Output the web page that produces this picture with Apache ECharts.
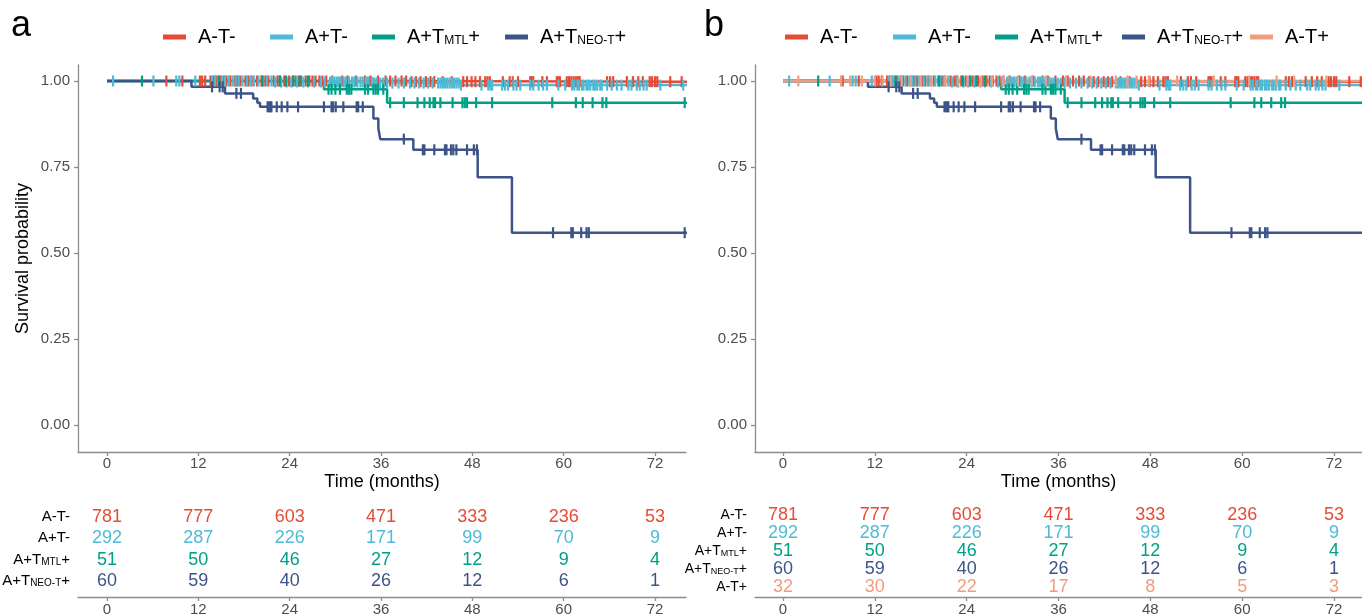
<!DOCTYPE html>
<html><head><meta charset="utf-8">
<script src="https://cdn.jsdelivr.net/npm/echarts@6/dist/echarts.min.js"></script>
<style>html,body{margin:0;padding:0;background:#fff}#c{width:1362px;height:615px}</style>
</head><body><div id="c"></div><script>
// ---------- DATA ----------
const groupNames = ['A-T-','A+T-','A+T_MTL+','A+T_NEO-T+','A-T+'];
const groupColors = ['#E64B35','#4DBBD5','#00A087','#3C5488','#F39B7F'];
const timeTicks = [0,12,24,36,48,60,72];
const survTicks = [0,0.25,0.5,0.75,1];
const curveEnd = 76.2;

// Kaplan-Meier step curves: event times and survival after each event
const atmTimes = [0, 40];
const atmSurv  = [1, 0.998];
const aptmTimes = [0, 22, 35, 46.4];
const aptmSurv  = [1, 0.997, 0.994, 0.988];
const mtlTimes = [0, 28.5, 36.8];
const mtlSurv  = [1, 0.976, 0.937];
const neoTimes = [0, 11.1, 15.5, 19.2, 19.75, 20.1, 35.0, 35.65, 35.9, 40.25, 48.7, 53.2];
const neoSurv  = [1, 0.983, 0.964, 0.949, 0.937, 0.925, 0.891, 0.862, 0.831, 0.80, 0.72, 0.559];
const atpTimes = [0];
const atpSurv  = [1];

// censoring times
const atmCens = [7.8, 9.9, 12.2, 12.5, 12.9, 13.6, 14.0, 14.3, 14.9, 15.4, 15.7, 16.2, 16.8, 17.1, 17.5, 18.2, 18.6, 19.0, 19.7, 20.3, 20.8, 21.2, 21.9, 22.4, 22.7, 23.3, 23.9, 24.4, 24.8, 25.2, 25.5, 26.1, 26.6, 27.0, 27.4, 27.9, 28.3, 28.8, 29.6, 30.9, 31.6, 32.7, 33.9, 34.6, 35.6, 36.6, 37.2, 37.9, 38.7, 39.3, 40.0, 40.6, 41.2, 41.9, 42.5, 43.0, 44.1, 45.3, 46.8, 47.3, 47.9, 48.4, 49.0, 49.7, 50.0, 50.3, 52.0, 52.9, 53.3, 54.0, 55.6, 55.8, 56.0, 57.2, 57.8, 59.1, 59.3, 59.5, 60.4, 60.7, 61.0, 61.3, 61.6, 61.9, 62.1, 65.7, 66.1, 66.5, 68.3, 69.1, 69.8, 70.4, 71.3, 71.6, 72.0, 72.3, 74.0, 75.5];
const aptmCens = [0.8, 6.1, 9.1, 9.5, 11.6, 13.8, 14.2, 14.6, 15.1, 15.5, 16.0, 16.5, 16.9, 17.3, 17.8, 18.4, 18.9, 19.3, 19.9, 20.5, 21.0, 21.6, 22.1, 22.9, 23.6, 24.2, 25.0, 25.8, 26.4, 27.2, 28.1, 28.6, 29.3, 29.6, 29.9, 30.2, 30.5, 30.7, 31.1, 31.4, 31.8, 32.2, 32.5, 32.9, 33.3, 33.6, 34.0, 34.3, 34.8, 35.1, 35.4, 35.9, 36.3, 36.8, 37.5, 38.3, 39.0, 39.8, 40.4, 41.0, 41.6, 42.2, 42.8, 43.5, 43.8, 44.1, 44.4, 44.7, 45.0, 45.3, 45.6, 45.9, 46.2, 46.5, 49.2, 50.1, 50.4, 50.6, 51.9, 52.3, 52.7, 53.4, 53.8, 54.3, 55.6, 56.0, 56.7, 57.3, 57.8, 59.3, 60.2, 61.1, 61.4, 61.8, 62.0, 62.4, 62.6, 63.0, 63.2, 63.5, 63.9, 64.1, 64.4, 64.8, 65.0, 65.7, 66.3, 67.0, 67.6, 68.5, 68.9, 69.6, 70.0, 70.5, 70.9, 72.7, 75.7];
const mtlCens = [4.6, 14.7, 20.4, 22.7, 23.5, 24.5, 25.3, 26.4, 29.1, 29.5, 30.0, 30.6, 31.5, 31.8, 32.1, 33.9, 34.3, 35.0, 35.3, 35.6, 36.3, 37.2, 39.0, 40.8, 41.7, 42.4, 42.9, 43.1, 43.8, 45.4, 46.7, 47.0, 47.3, 48.5, 50.6, 58.5, 61.6, 62.5, 63.8, 65.1, 65.6, 75.9];
const neoCens = [13.8, 14.8, 15.2, 17.0, 17.6, 21.1, 21.3, 21.5, 21.6, 22.3, 22.95, 23.7, 25.1, 28.5, 29.5, 29.7, 30.05, 31.05, 32.8, 33.0, 33.6, 39.0, 41.5, 41.7, 43.0, 44.4, 44.6, 45.2, 45.5, 45.9, 47.3, 48.2, 48.6, 58.6, 61.0, 61.2, 62.3, 63.0, 63.3, 75.9];
const atpCens = [2.0, 7.6, 8.8, 10.3, 12.0, 13.0, 14.1, 15.5, 16.7, 18.0, 19.4, 21.2, 22.8, 24.1, 25.9, 27.3, 28.8, 30.7, 32.5, 34.4, 37.0, 40.2, 43.5, 45.0, 46.2, 47.8, 51.5, 56.3, 60.9, 64.5, 66.8, 71.0];

// numbers at risk
const riskATm  = [781, 777, 603, 471, 333, 236, 53];
const riskAPTm = [292, 287, 226, 171, 99, 70, 9];
const riskMTL  = [51, 50, 46, 27, 12, 9, 4];
const riskNEO  = [60, 59, 40, 26, 12, 6, 1];
const riskATp  = [32, 30, 22, 17, 8, 5, 3];

// ---------- BUILD ----------
const curves = [
  {t: atmTimes, s: atmSurv, c: atmCens, r: riskATm},
  {t: aptmTimes, s: aptmSurv, c: aptmCens, r: riskAPTm},
  {t: mtlTimes, s: mtlSurv, c: mtlCens, r: riskMTL},
  {t: neoTimes, s: neoSurv, c: neoCens, r: riskNEO},
  {t: atpTimes, s: atpSurv, c: atpCens, r: riskATp}
];
function survAt(cv, x) {
  let v = cv.s[0];
  for (let i = 0; i < cv.t.length; i++) if (cv.t[i] <= x) v = cv.s[i];
  return v;
}
function richName(n) {
  return n.replace('_MTL', '{sub|MTL}').replace('_NEO-T', '{sub|NEO-T}');
}
const FONT = 'Liberation Sans, Arial, sans-serif';
const axisGrey = '#8c8c8c';
const labelGrey = '#4d4d4d';

const panels = [
  {n: 4, plot: {left: 78, right: 1362 - 686, top: 65, bottom: 615 - 452}, xmin: -3.81, xmax: 76.07,
   table: {top: 505, bottom: 18}, tmin: -0.5625, tmax: 3.75, nameSize: 15, yName: 'Survival probability',
   legendLeft: [163, 270, 372, 505]},
  {n: 5, plot: {left: 755, right: 0, top: 65, bottom: 615 - 452}, xmin: -3.66, xmax: 75.66,
   table: {top: 503, bottom: 18}, tmin: -0.667, tmax: 4.556, nameSize: 14, yName: '',
   legendLeft: [785, 893, 995, 1122, 1250]}
];

const grids = [], xAxes = [], yAxes = [], series = [], legends = [];
const legendText = {fontSize: 20, color: '#000', fontFamily: FONT, padding: [0, 0, 0, 7],
  rich: {sub: {fontSize: 12, lineHeight: 4, verticalAlign: 'bottom', fontFamily: FONT, color: '#000'}}};

panels.forEach((p, pi) => {
  const gPlot = grids.length;
  grids.push(Object.assign({containLabel: false, outerBoundsMode: 'none'}, p.plot));
  const gTab = grids.length;
  grids.push({left: p.plot.left, right: p.plot.right, top: p.table.top, bottom: p.table.bottom,
    containLabel: false, outerBoundsMode: 'none'});

  const xCommon = {
    type: 'value', min: p.xmin, max: p.xmax, splitLine: {show: false},
    axisLine: {onZero: false, lineStyle: {color: axisGrey, width: 1.3}},
    axisTick: {customValues: timeTicks, length: 4, lineStyle: {color: axisGrey, width: 1.3}},
    axisLabel: {customValues: timeTicks, color: labelGrey, fontSize: 15, fontFamily: FONT, margin: 4}
  };
  xAxes.push(Object.assign({gridIndex: gPlot, name: 'Time (months)', nameLocation: 'middle', nameGap: 21,
    nameMoveOverlap: false,
    nameTextStyle: {fontSize: 18, color: '#000', fontFamily: FONT}}, JSON.parse(JSON.stringify(xCommon))));
  const xTab = JSON.parse(JSON.stringify(xCommon));
  xTab.axisLabel.margin = 5;
  xAxes.push(Object.assign({gridIndex: gTab}, xTab));

  yAxes.push({gridIndex: gPlot, type: 'value', min: -0.0785, max: 1.0465, splitLine: {show: false},
    name: p.yName, nameLocation: 'middle', nameGap: 46, nameMoveOverlap: false,
    nameTextStyle: {fontSize: 18, color: '#000', fontFamily: FONT},
    axisLine: {show: true, onZero: false, lineStyle: {color: axisGrey, width: 1.3}},
    axisTick: {show: true, customValues: survTicks, length: 4, lineStyle: {color: axisGrey, width: 1.3}},
    axisLabel: {customValues: survTicks, color: labelGrey, fontSize: 15, fontFamily: FONT, margin: 8,
      formatter: v => v.toFixed(2)}});
  const rows = [];
  for (let i = 0; i < p.n; i++) rows.push(i);
  yAxes.push({gridIndex: gTab, type: 'value', inverse: true, min: p.tmin, max: p.tmax, splitLine: {show: false},
    axisLine: {show: false}, axisTick: {show: false},
    axisLabel: {customValues: rows, color: '#000', fontSize: p.nameSize, fontFamily: FONT, margin: 8,
      formatter: v => richName(groupNames[Math.round(v)]),
      rich: {sub: {fontSize: Math.round(p.nameSize * 0.65), lineHeight: 4, verticalAlign: 'bottom', fontFamily: FONT, color: '#000'}}}});

  // lines
  for (let g = 0; g < p.n; g++) {
    const cv = curves[g];
    const data = cv.t.map((t, i) => [t, cv.s[i]]);
    data.push([curveEnd, cv.s[cv.s.length - 1]]);
    series.push({type: 'line', name: groupNames[g], xAxisIndex: gPlot, yAxisIndex: gPlot, data: data,
      step: 'end', showSymbol: false, symbol: 'none', animation: false, z: 2,
      lineStyle: {color: groupColors[g], width: 2.5}, itemStyle: {color: groupColors[g]}});
    legends.push({left: p.legendLeft[g], top: 27, padding: 0, icon: 'rect', itemWidth: 23, itemHeight: 5,
      selectedMode: false, data: [groupNames[g]], formatter: richName, textStyle: legendText});
  }
  // censor marks
  for (let g = 0; g < p.n; g++) {
    const cv = curves[g];
    series.push({type: 'scatter', name: 'cens' + pi + '_' + g, xAxisIndex: gPlot, yAxisIndex: gPlot,
      data: cv.c.map(t => [t, survAt(cv, t)]), symbol: 'rect', symbolSize: [2.2, 11], animation: false, z: 3,
      itemStyle: {color: groupColors[g], opacity: 1}, silent: true});
  }
  // risk table
  for (let g = 0; g < p.n; g++) {
    const cv = curves[g];
    series.push({type: 'scatter', name: 'risk' + pi + '_' + g, xAxisIndex: gTab, yAxisIndex: gTab,
      data: timeTicks.map((t, i) => [t, g, cv.r[i]]), symbolSize: 1, animation: false, silent: true,
      itemStyle: {color: 'rgba(0,0,0,0)', opacity: 1},
      label: {show: true, position: 'inside', formatter: q => String(q.value[2]), color: groupColors[g],
        opacity: 1, fontSize: 18, fontFamily: FONT}});
  }
});

const option = {
  backgroundColor: '#fff',
  animation: false,
  grid: grids, xAxis: xAxes, yAxis: yAxes, series: series,
  legend: legends,
  graphic: [
    {type: 'text', left: 11, top: 8, style: {text: 'a', fontSize: 36, fontFamily: FONT, fill: '#000'}},
    {type: 'text', left: 704, top: 8, style: {text: 'b', fontSize: 36, fontFamily: FONT, fill: '#000'}}
  ]
};
const chart = echarts.init(document.getElementById('c'), null, {renderer: 'canvas'});
chart.setOption(option);
</script></body></html>
